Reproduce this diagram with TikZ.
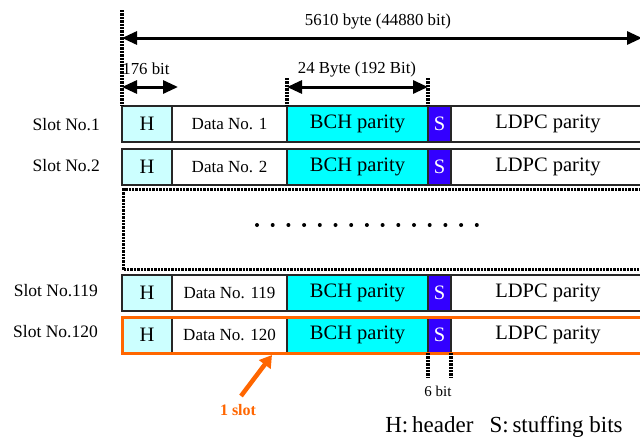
\documentclass[tikz,border=0pt]{standalone}
\usepackage{fontspec}
\setmainfont{Liberation Serif}
\usetikzlibrary{arrows.meta}
\definecolor{lcyan}{HTML}{CCFFFF}
\definecolor{bcyan}{HTML}{00FFFF}
\definecolor{sblue}{HTML}{3300FF}
\definecolor{org}{HTML}{FF6600}
\begin{document}
\begin{tikzpicture}[x=1pt,y=-1pt,
  cell/.style={draw=black!85, line width=1.5pt, minimum height=36pt, inner sep=0pt, outer sep=0pt, anchor=west, font=\fontsize{20.5}{22}\selectfont},
  datafont/.style={font=\fontsize{17}{18}\selectfont},
  lbl/.style={font=\fontsize{16.8}{18}\selectfont, inner sep=0pt},
  slotlbl/.style={font=\fontsize{17.5}{18}\selectfont, anchor=east, inner sep=0pt},
  dotline/.style={line width=3.2pt, dash pattern=on 2.4pt off 1pt},
  dimarrow/.style={line width=3pt, {Triangle[length=15pt,width=13pt]}-{Triangle[length=15pt,width=13pt]}},
]
\clip (0,0) rectangle (640,439);
\fill[white] (0,0) rectangle (640,439);

% slot rows
\foreach \r/\y/\d in {1/124/1, 2/167/2, 119/293/119, 120/335/120}{
  \node[cell, fill=lcyan, minimum width=50pt] (h\r) at (122,\y) {H};
  \node[cell, fill=white, minimum width=115pt, datafont] (d\r) at (h\r.east) {Data No. \d};
  \node[cell, fill=bcyan, minimum width=141pt] (b\r) at (d\r.east) {BCH parity};
  \node[cell, fill=sblue, minimum width=23pt, text=white] (s\r) at (b\r.east) {S};
  \node[cell, fill=white, minimum width=200pt] (l\r) at (s\r.east) {\hspace*{-6pt}LDPC parity};
}

% slot labels
\node[slotlbl] (sl1) at (100,125) {Slot No.1};
\node[slotlbl] (sl2) at (100,166) {Slot No.2};
\node[slotlbl] (sl119) at (98,291) {Slot No.119};
\node[slotlbl] (sl120) at (98,332) {Slot No.120};

% orange frame around slot 120
\draw[org, line width=3pt] (h120.south west) rectangle (l120.north east);

% dotted gap box
\node[draw, dotline, minimum width=540pt, minimum height=80pt, anchor=north west, inner sep=0pt] (gap) at (122,188) {};
\foreach \i in {0,...,14}{
  \fill (257+\i*15.7,225) circle (2pt);
}

% overall dimension
\coordinate (tt) at (122,10);
\draw[dotline] (tt) -- (h1.north west);
\coordinate (a0) at (122,38);
\coordinate (a1) at (642,38);
\draw[dimarrow] (a0) -- (a1);
\node[lbl] (totlbl) at (378,21) {5610 byte (44880 bit)};

% header dimension
\coordinate (hb0) at (122,87);
\coordinate (hb1) at (178,87);
\draw[dimarrow] (hb0) -- (hb1);
\node[lbl] (hlbl) at (146,69) {176 bit};

% BCH dimension
\coordinate (bt0) at (287,78);
\coordinate (bt1) at (428,78);
\draw[dotline] (bt0) -- (b1.north west);
\draw[dotline] (bt1) -- (b1.north east);
\coordinate (bb0) at (287,87);
\coordinate (bb1) at (428,87);
\draw[dimarrow] (bb0) -- (bb1);
\node[lbl] (blbl) at (357,69) {24 Byte (192 Bit)};

% stuffing dimension
\coordinate (sd0) at (428,377);
\coordinate (sd1) at (451,377);
\draw[dotline] (s120.south west) -- (sd0);
\draw[dotline] (s120.south east) -- (sd1);
\node[lbl, font=\fontsize{15}{16}\selectfont] (slbl) at (438,391) {6 bit};

% 1 slot marker
\node[lbl, text=org, font=\fontsize{16}{18}\selectfont\bfseries] (onelbl) at (238,410) {1 slot};
\coordinate (otail) at (241,396);
\coordinate (otip) at (272,355);
\draw[org, line width=4.5pt, -{Triangle[length=12pt,width=14pt]}] (otail) -- (otip);

% legend
\node[lbl, font=\fontsize{23}{26}\selectfont] (legend) at (504,427) {H:\,header\hspace{16pt}S:\,stuffing bits};
\end{tikzpicture}
\end{document}
